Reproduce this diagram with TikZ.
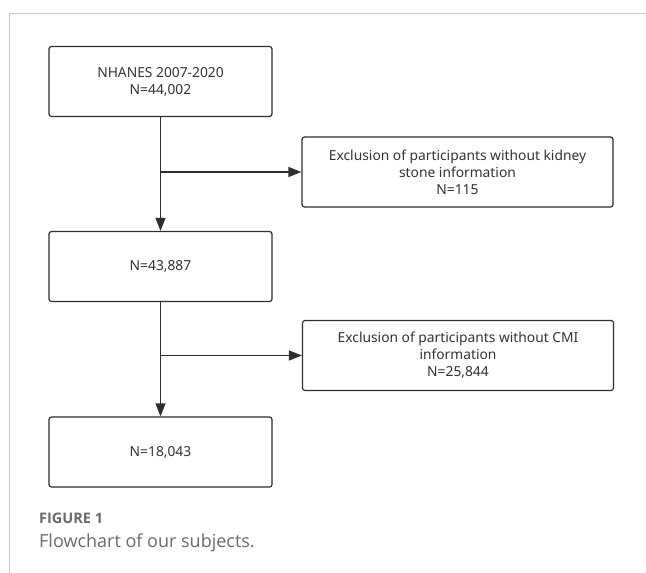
\documentclass[tikz,border=0pt]{standalone}
\usepackage{fontspec}
\setmainfont{Noto Sans}
\newfontfamily\capfont{Open Sans}
\usetikzlibrary{arrows.meta}
\definecolor{boxline}{HTML}{2E2E2E}
\definecolor{txt}{HTML}{333333}
\definecolor{frame}{HTML}{C8C8C8}
\definecolor{capgray}{HTML}{6A6A6A}
\begin{document}
\begin{tikzpicture}[x=1pt,y=-1pt,
  box/.style={draw=boxline, line width=1.2pt, rounded corners=2.5pt, align=center,
     text=txt, font=\fontsize{13.8}{17}\selectfont, inner sep=0pt},
  mainbox/.style={box, minimum width=223pt, minimum height=70pt},
  exbox/.style={box, minimum width=311pt, minimum height=70pt},
  arr/.style={draw=boxline, line width=1.2pt, -{Triangle[length=13pt,width=10pt]}}]
\useasboundingbox (0,0) rectangle (646,573);
\fill[white] (0,0) rectangle (646,573);
\draw[frame, line width=1pt] (646,13) -- (9,13) -- (9,573);
\node[mainbox] (n1) at (160.5,81.5) {NHANES 2007-2020\\N=44,002};
\node[exbox] (e1) at (457.5,172) {Exclusion of participants without kidney\\stone information\\N=115};
\node[mainbox] (n2) at (160.5,266.5) {N=43,887};
\node[exbox] (e2) at (458,355.5) {Exclusion of participants without CMI\\information\\N=25,844};
\node[mainbox] (n3) at (160.5,452) {N=18,043};
\coordinate (j1) at (160.5,172);
\coordinate (j2) at (160.5,355.5);
\draw[arr] (n1) -- (n2);
\draw[arr] (j1) -- (e1.west);
\draw[arr] (n2) -- (n3);
\draw[arr] (j2) -- (e2.west);
\node[anchor=base west, inner sep=0pt, text=capgray, font=\capfont\bfseries\fontsize{14.5}{17}\selectfont] (fig) at (39,523) {FIGURE 1};
\node[anchor=base west, inner sep=0pt, text=capgray, font=\capfont\fontsize{18}{22}\selectfont] (cap) at (39,547) {Flowchart of our subjects.};
\end{tikzpicture}
\end{document}
